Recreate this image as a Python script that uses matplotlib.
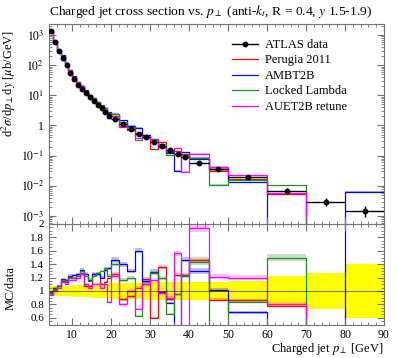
import numpy as np
import matplotlib.pyplot as plt
from matplotlib.lines import Line2D
from matplotlib.ticker import MultipleLocator, LogLocator, FuncFormatter, NullFormatter

plt.rcParams['font.family'] = ['Liberation Serif', 'DejaVu Serif']
plt.rcParams['mathtext.fontset'] = 'stix'
plt.rcParams['font.size'] = 9

# bin edges in charged jet pT [GeV]
pt_edges = [4, 5, 6, 7, 8, 9, 10, 11, 12, 13, 14, 15, 16, 17, 18, 19, 20,
            22, 24, 26, 28, 30, 32, 34, 36, 38, 40, 45, 50, 60, 70, 80, 90]

# ATLAS data, d2sigma/dpT dy [mub/GeV]
atlas = [1350, 600, 295, 177, 100, 56, 34, 22, 16, 11.7, 8.7, 6.5, 4.8, 3.7, 2.9, 2.1,
         1.66, 1.1, 0.75, 0.53, 0.41, 0.28, 0.205, 0.155, 0.115, 0.089,
         0.059, 0.036, 0.019, 0.0069, 0.0030, 0.0015]
# relative data uncertainty
atlas_relerr = [0.08, 0.08, 0.08, 0.08, 0.08, 0.08, 0.09, 0.09, 0.09, 0.09, 0.09, 0.10,
                0.10, 0.10, 0.10, 0.10,
                0.12, 0.12, 0.12, 0.12, 0.13, 0.13, 0.13, 0.13, 0.13, 0.13,
                0.14, 0.14, 0.15, 0.22, 0.27, 0.40]

# MC / data ratios
perugia = [0.96, 1.02, 1.07, 1.15, 1.14, 1.21, 1.20, 1.22, 1.27, 1.07, 1.08, 1.26, 1.25, 1.10, 1.13, 1.20,
           1.25, 0.88, 0.92, 1.05, 1.18, 0.60, 1.36, 0.88, 1.24, 1.24,
           1.47, 0.87, 0.86, 0.78, 0, 0]
ambt2b = [0.98, 1.05, 1.08, 1.18, 1.16, 1.23, 1.24, 1.25, 1.32, 1.26, 1.17, 1.25, 1.26, 1.20, 1.31, 1.34,
          1.47, 1.40, 1.30, 1.60, 1.15, 1.29, 0.98, 0.82, 0.28, 1.47,
          1.30, 1.02, 0.68, 0, 0, 4.3]
locked = [0.97, 1.03, 1.07, 1.16, 1.15, 1.20, 1.19, 1.22, 1.30, 1.23, 1.15, 1.22, 1.27, 1.30, 1.34, 1.23,
          1.41, 1.17, 1.20, 0.63, 1.10, 1.27, 1.20, 0.66, 0.95, 1.22,
          1.43, 0.30, 0.84, 1.50, 0, 0]
auet2b = [0.94, 1.00, 1.05, 1.13, 1.11, 1.17, 1.16, 1.20, 1.25, 1.11, 1.04, 1.11, 1.11, 1.05, 1.11, 0.84,
          1.22, 0.80, 1.00, 0.73, 1.10, 1.16, 0.97, 0.90, 1.56, 0.33,
          1.94, 1.21, 1.20, 0.81, 0, 0]
# MC statistical uncertainty (relative)
mc_relerr = [0.015] * 16 + [0.025] * 10 + [0.03] * 6

models = [('Perugia 2011', '#ff0000', perugia),
          ('AMBT2B', '#0000ff', ambt2b),
          ('Locked Lambda', '#228b22', locked),
          ('AUET2B retune', '#ff00ff', auet2b)]

edges = np.array(pt_edges, dtype=float)
data = np.array(atlas)
derr = np.array(atlas_relerr)
mcerr = np.array(mc_relerr)
centers = 0.5 * (edges[1:] + edges[:-1])
halfw = 0.5 * (edges[1:] - edges[:-1])

fig = plt.figure(figsize=(3.97, 3.58), dpi=100)
ax = fig.add_axes([49 / 397, 1 - 224 / 358, 335 / 397, 200 / 358])
ax2 = fig.add_axes([49 / 397, 1 - 324.5 / 358, 335 / 397, 100.5 / 358])

# main panel
for name, c, r in models:
    mc = np.array(r) * data
    lo = np.maximum(mc * (1 - mcerr), 1e-9)
    hi = np.maximum(mc * (1 + mcerr), 1e-9)
    ax.stairs(hi, edges, baseline=lo, fill=True, color=c, alpha=0.3, lw=0)
    ax.stairs(np.where(mc > 0, mc, 1e-9), edges, baseline=None, color=c, lw=0.9)

ax.errorbar(centers, data, xerr=halfw, yerr=data * derr, fmt='o', color='k',
            ms=3.2, lw=1.0, capsize=0, zorder=5)

ax.set_yscale('log')
ax.set_xlim(4, 90)
ax.set_ylim(5.43e-4, 2310)
ax.yaxis.set_major_locator(LogLocator(base=10, numticks=20))
ax.yaxis.set_minor_locator(LogLocator(base=10, subs=np.arange(2, 10), numticks=20))
ax.yaxis.set_minor_formatter(NullFormatter())
ax.yaxis.set_major_formatter(FuncFormatter(
    lambda v, p: '1' if abs(np.log10(v)) < 1e-6 else r'$10^{%d}$' % round(np.log10(v))))
ax.xaxis.set_major_locator(MultipleLocator(10))
ax.xaxis.set_minor_locator(MultipleLocator(2))
ax.tick_params(labelbottom=False)

handles = [Line2D([], [], color='k', marker='o', ms=3.2, lw=1.0)]
labels = ['ATLAS data']
for name, c, r in models:
    handles.append(Line2D([], [], color=c, lw=0.9))
    labels.append(name)
ax.legend(handles, labels, loc='upper left', bbox_to_anchor=(0.53, 0.95),
          frameon=False, handlelength=2.1, handletextpad=0.55, labelspacing=0.28,
          fontsize=9, borderaxespad=0)

# ratio panel
ax2.stairs(1 + derr, edges, baseline=1 - derr, fill=True, color='#ffff00', lw=0)
ax2.axhline(1, color='k', lw=0.8, alpha=0.5)
for name, c, r in models:
    r = np.array(r)
    ax2.stairs(r * (1 + mcerr), edges, baseline=r * (1 - mcerr), fill=True,
               color=c, alpha=0.25, lw=0)
    ax2.stairs(r, edges, baseline=None, color=c, lw=0.9)

ax2.set_xlim(4, 90)
ax2.set_ylim(0.5, 2.0)
ax2.yaxis.set_major_locator(MultipleLocator(0.2))
ax2.yaxis.set_minor_locator(MultipleLocator(0.05))
ax2.yaxis.set_major_formatter(FuncFormatter(lambda v, p: '%g' % round(v, 2)))
ax2.xaxis.set_major_locator(MultipleLocator(10))
ax2.xaxis.set_minor_locator(MultipleLocator(2))

for a in (ax, ax2):
    a.tick_params(which='both', direction='in', top=True, right=True,
                  color='0.45', labelcolor='k', labelsize=8.5)
    a.tick_params(which='major', length=5)
    a.tick_params(which='minor', length=2.5)
    for s in a.spines.values():
        s.set_color('0.45')
ax2.tick_params(axis='y', labelsize=8)

# texts
fig.text(49 / 397, 1 - 12 / 358,
         r'Charged jet cross section vs. $p_\perp$ (anti-$k_t$, R = 0.4, $y$ 1.5-1.9)',
         ha='left', va='center', fontsize=9.7)
fig.text(9 / 397, 1 - 30 / 358, r'd$^2\sigma$/d$p_\perp$d$y$ [$\mu$b/GeV]',
         rotation=90, ha='center', va='top', fontsize=9)
fig.text(11 / 397, 1 - 266 / 358, 'MC/data', rotation=90, ha='center', va='top', fontsize=9)
fig.text(384 / 397, 1 - 349 / 358, r'Charged jet $p_\perp$ [GeV]',
         ha='right', va='center', fontsize=9)

fig.savefig('out.png', dpi=100)
